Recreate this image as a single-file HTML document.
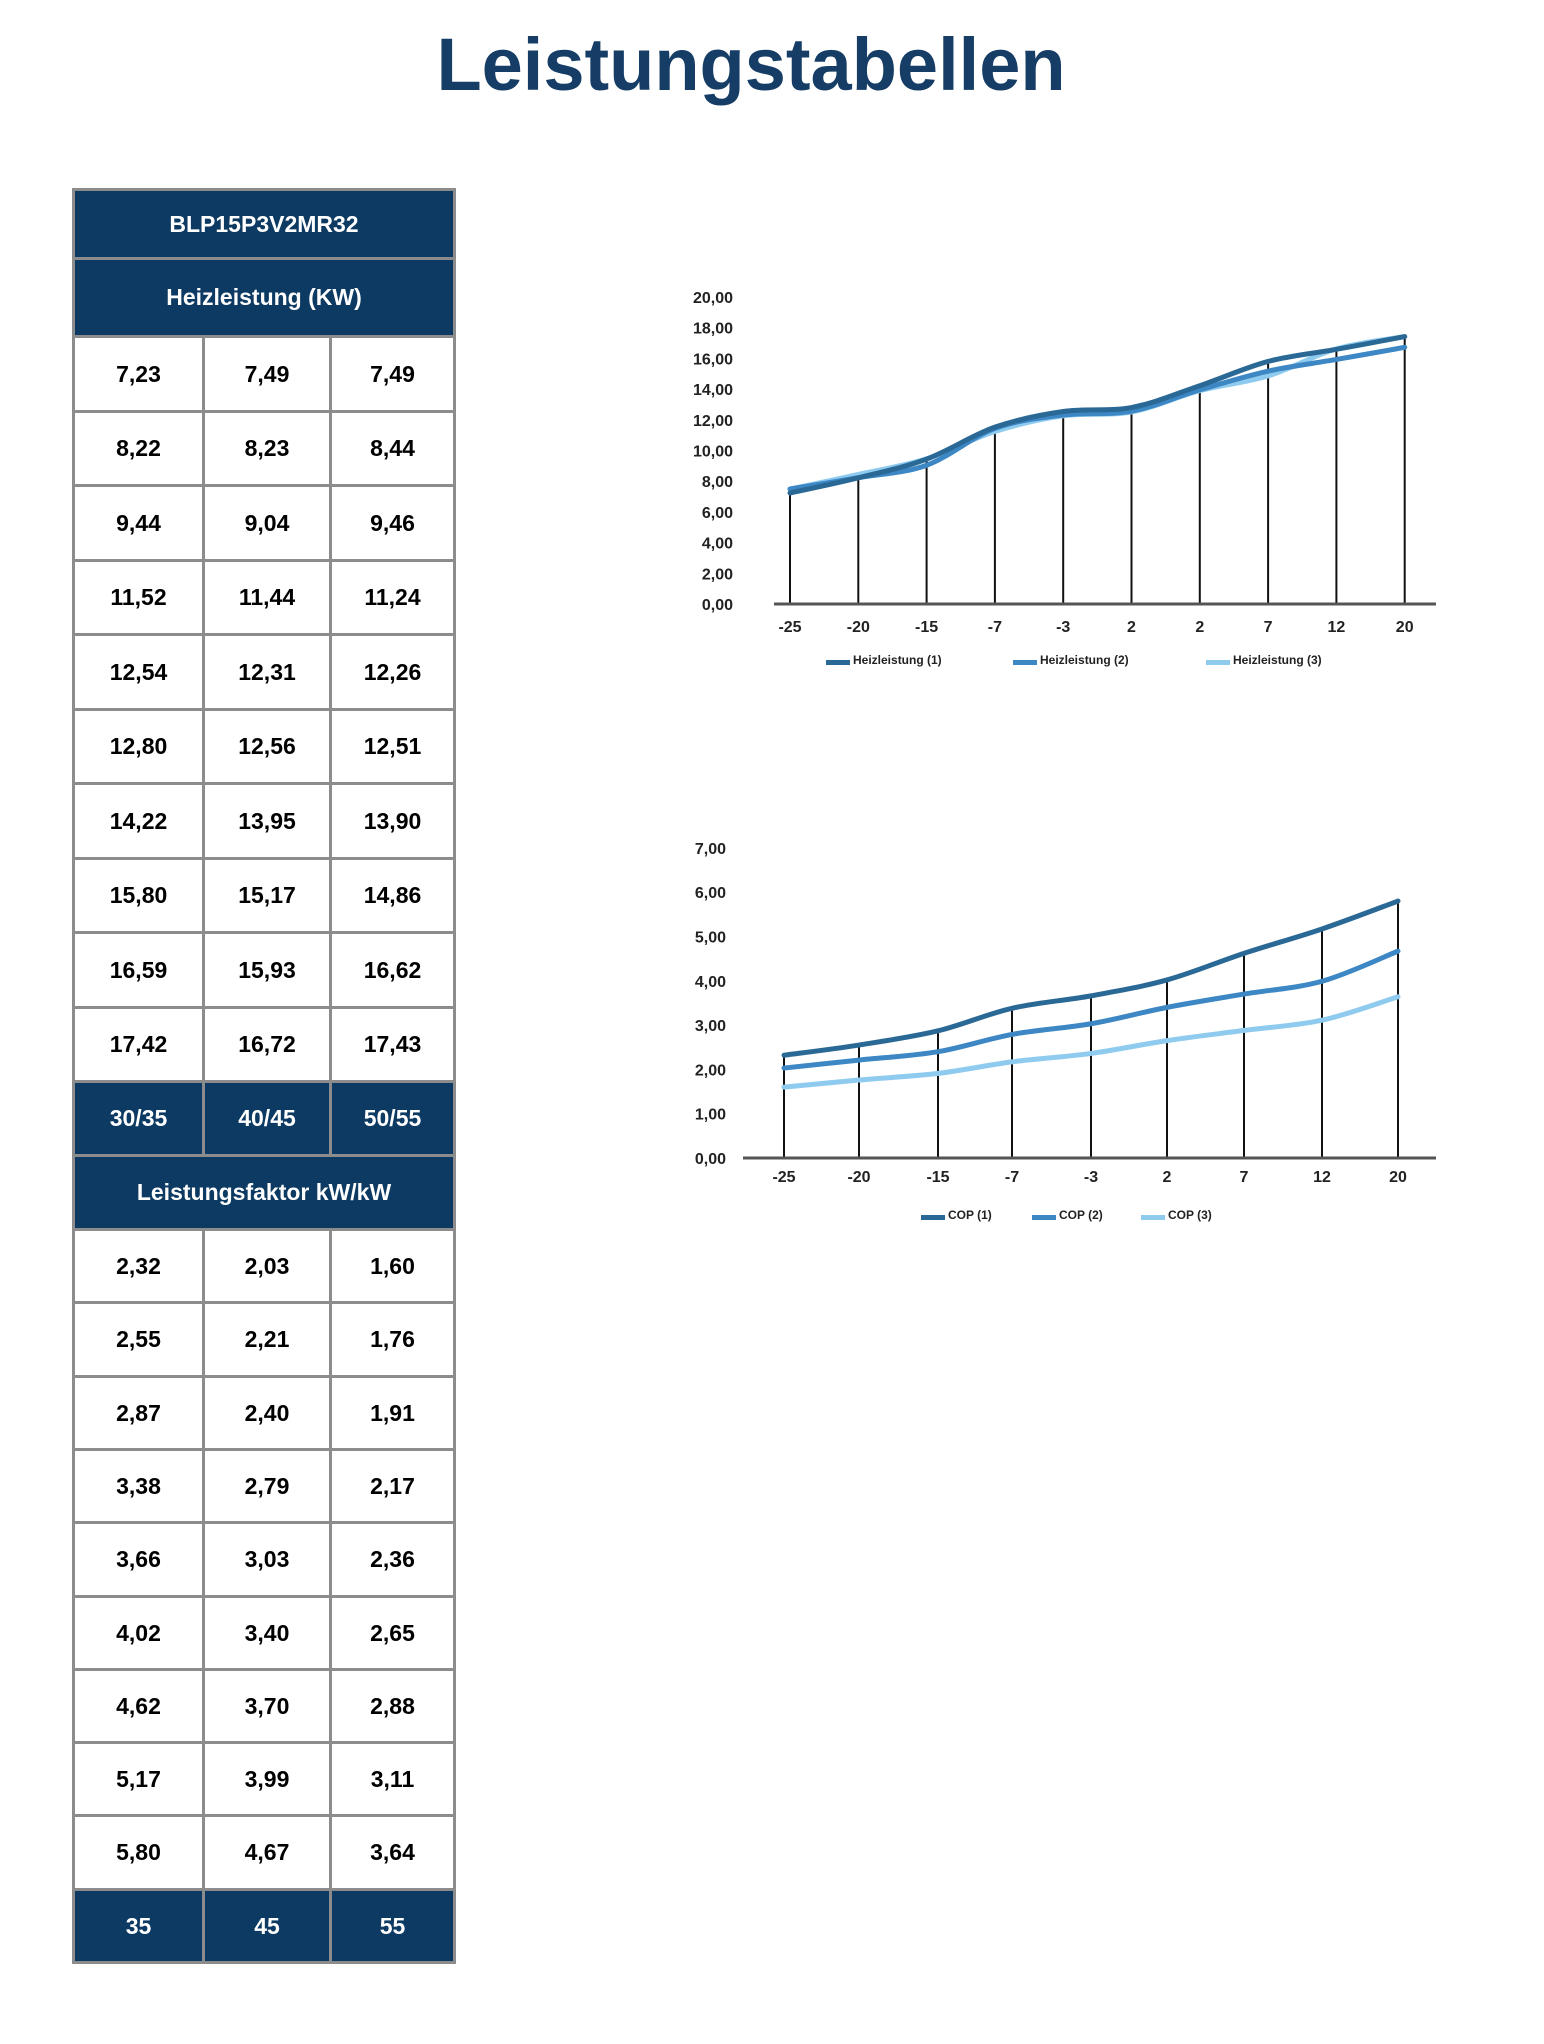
<!DOCTYPE html>
<html><head><meta charset="utf-8">
<style>
html,body{margin:0;padding:0;background:#fff;}
body{width:1544px;height:2044px;position:relative;overflow:hidden;font-family:"Liberation Sans",Arial,sans-serif;}
#title{position:absolute;left:0;width:1502px;top:22px;text-align:center;font-weight:bold;font-size:74px;color:#163d66;}
.c{position:absolute;box-sizing:border-box;border:3px solid #8c8c8c;display:flex;align-items:center;justify-content:center;font-weight:bold;font-size:23px;color:#000;background:#fff;}
.h{background:#0d3a62;color:#fff;}
svg text{font-family:"Liberation Sans",Arial,sans-serif;}
</style></head><body>
<div id="title">Leistungstabellen</div>
<div id="tbl"></div>
<svg id="sv" width="1544" height="2044" style="position:absolute;left:0;top:0"></svg>
<script>
var t=document.getElementById('tbl'),h='';
var L=72,C1=202,C2=329,R=453;
function cell(x1,y1,x2,y2,txt,hd){h+='<div class="c'+(hd?' h':'')+'" style="left:'+x1+'px;top:'+y1+'px;width:'+(x2-x1+3)+'px;height:'+(y2-y1+3)+'px">'+txt+'</div>';}
function row(y1,y2,a,hd){cell(L,y1,C1,y2,a[0],hd);cell(C1,y1,C2,y2,a[1],hd);cell(C2,y1,R,y2,a[2],hd);}
cell(L,188,R,257,'BLP15P3V2MR32',1);
cell(L,257,R,335,'Heizleistung (KW)',1);
var hz=[[7.23,7.49,7.49],[8.22,8.23,8.44],[9.44,9.04,9.46],[11.52,11.44,11.24],[12.54,12.31,12.26],[12.80,12.56,12.51],[14.22,13.95,13.90],[15.80,15.17,14.86],[16.59,15.93,16.62],[17.42,16.72,17.43]];
var cp=[[2.32,2.03,1.60],[2.55,2.21,1.76],[2.87,2.40,1.91],[3.38,2.79,2.17],[3.66,3.03,2.36],[4.02,3.40,2.65],[4.62,3.70,2.88],[5.17,3.99,3.11],[5.80,4.67,3.64]];
function f(v){return v.toFixed(2).replace('.',',');}
for(var i=0;i<10;i++){var y=335+i*74.5;row(Math.round(y),Math.round(y+74.5),hz[i].map(f));}
row(1080,1154,['30/35','40/45','50/55'],1);
cell(L,1154,R,1228,'Leistungsfaktor kW/kW',1);
for(var i=0;i<9;i++){var y=1228+i*73.3;row(Math.round(y),Math.round(y+73.3),cp[i].map(f));}
row(1888,1961,['35','45','55'],1);
t.innerHTML=h;

var cols=['#2a6896','#3c87c4','#8fcbef'];
function path(xs,ys){var d='M'+xs[0]+','+ys[0];for(var i=0;i<xs.length-1;i++){var x0=xs[Math.max(i-1,0)],y0=ys[Math.max(i-1,0)],x1=xs[i],y1=ys[i],x2=xs[i+1],y2=ys[i+1],x3=xs[Math.min(i+2,xs.length-1)],y3=ys[Math.min(i+2,xs.length-1)];
d+=' C'+(x1+(x2-x0)/6)+','+(y1+(y2-y0)/6)+' '+(x2-(x3-x1)/6)+','+(y2-(y3-y1)/6)+' '+x2+','+y2;}return d;}
var s='';
function chart(o){
 var xs=[];for(var i=0;i<o.n;i++)xs.push(o.xs?o.xs[i]:o.x0+i*o.dx);
 for(var k=0;k<=o.ymax;k+=o.ystep){var y=o.y0-k*o.u;s+='<text x="'+o.lx+'" y="'+(y+6)+'" text-anchor="end" font-size="16" font-weight="bold" fill="#222">'+f(k)+'</text>';}
 for(var i=0;i<o.n;i++){var m=0;for(var j=0;j<3;j++)m=Math.max(m,o.d[i][j]);s+='<line x1="'+xs[i]+'" y1="'+o.y0+'" x2="'+xs[i]+'" y2="'+(o.y0-m*o.u)+'" stroke="#111" stroke-width="2"/>';
  s+='<text x="'+xs[i]+'" y="'+(o.ly)+'" text-anchor="middle" font-size="16" font-weight="bold" fill="#222">'+o.lab[i]+'</text>';}
 s+='<line x1="'+o.ax1+'" y1="'+o.y0+'" x2="'+o.ax2+'" y2="'+o.y0+'" stroke="#555" stroke-width="3"/>';
 for(var j=2;j>=0;j--){var ys=[];for(var i=0;i<o.n;i++)ys.push(o.y0-o.d[i][j]*o.u);s+='<path d="'+path(xs,ys)+'" fill="none" stroke="'+cols[j]+'" stroke-width="5" stroke-linecap="round"/>';}
 for(var j=0;j<3;j++){var x=o.lg[j];s+='<rect x="'+x+'" y="'+(o.lgy-2)+'" width="24" height="5" fill="'+cols[j]+'"/><text x="'+(x+27)+'" y="'+(o.lgy+2)+'" font-size="12" font-weight="bold" fill="#222">'+o.ln[j]+'</text>';}
}
chart({n:10,x0:790,dx:68.3,y0:604,u:15.35,ymax:20,ystep:2,lx:733,ly:632,ax1:774,ax2:1436,d:hz,lab:['-25','-20','-15','-7','-3','2','2','7','12','20'],lg:[826,1013,1206],lgy:662,ln:['Heizleistung (1)','Heizleistung (2)','Heizleistung (3)']});
chart({n:9,xs:[784,859,938,1012,1091,1167,1244,1322,1398],y0:1158,u:44.3,ymax:7,ystep:1,lx:726,ly:1182,ax1:743,ax2:1436,d:cp,lab:['-25','-20','-15','-7','-3','2','7','12','20'],lg:[921,1032,1141],lgy:1217,ln:['COP (1)','COP (2)','COP (3)']});
document.getElementById('sv').innerHTML=s;
</script>
</body></html>
